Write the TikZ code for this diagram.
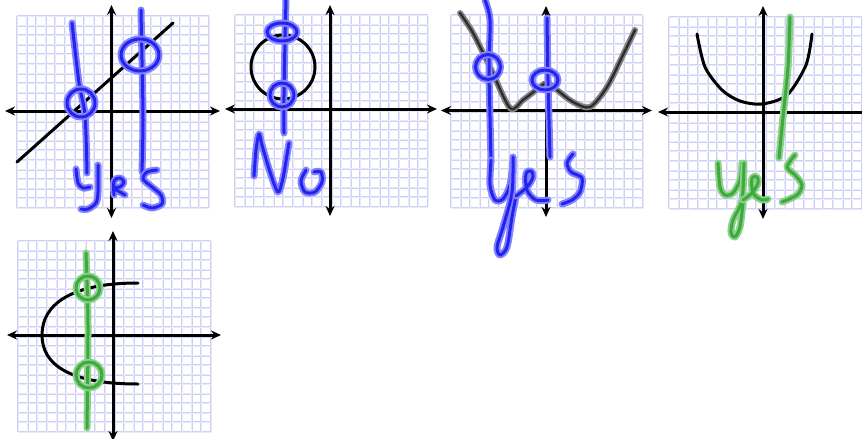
\documentclass[tikz,border=0pt]{standalone}
\usetikzlibrary{arrows.meta}
\definecolor{gridc}{RGB}{206,209,243}
\definecolor{gridl}{RGB}{232,234,251}
\definecolor{bluec}{RGB}{35,35,240}
\definecolor{blueh}{RGB}{130,130,255}
\definecolor{greenc}{RGB}{60,170,60}
\definecolor{greenh}{RGB}{140,208,140}
\definecolor{grayh}{RGB}{130,130,130}
\tikzset{
  gridline/.style={draw=gridc, line width=2pt},
  gridinner/.style={draw=gridl, line width=0.7pt},
  axis/.style={line width=3pt, black, {Stealth[length=10pt,width=9pt]}-{Stealth[length=10pt,width=9pt]}},
  laxis/.style={line width=3pt, black, {Stealth[length=10pt,width=9pt]}-},
  curve/.style={line width=3pt, black, line cap=round},
  gcurve/.style={preaction={draw=grayh, line width=6pt, line cap=round, line join=round}, draw={rgb,255:red,45;green,45;blue,45}, line width=2.4pt, line cap=round, line join=round},
  bink/.style={preaction={draw=blueh, line width=7pt, line cap=round, line join=round}, draw=bluec, line width=3pt, line cap=round, line join=round},
  gink/.style={preaction={draw=greenh, line width=7pt, line cap=round, line join=round}, draw=greenc, line width=3pt, line cap=round, line join=round}
}
\newcommand{\gridpanel}[4]{%
  \foreach \i in {0,...,20}{%
    \draw[gridline] ({#1+\i*(#3-#1)/20},#2) -- ({#1+\i*(#3-#1)/20},#4);
    \draw[gridline] (#1,{#2+\i*(#4-#2)/20}) -- (#3,{#2+\i*(#4-#2)/20});
  }%
  \foreach \i in {0,...,20}{%
    \draw[gridinner] ({#1+\i*(#3-#1)/20},#2) -- ({#1+\i*(#3-#1)/20},#4);
    \draw[gridinner] (#1,{#2+\i*(#4-#2)/20}) -- (#3,{#2+\i*(#4-#2)/20});
  }%
}
\begin{document}
\begin{tikzpicture}[x=1pt,y=-1pt]
\useasboundingbox (0,0) rectangle (862,439);
\clip (0,0) rectangle (862,439);
\fill[white] (0,0) rectangle (862,439);
% grids
\gridpanel{17}{16}{209}{208}
\gridpanel{235}{15}{428}{207}
\gridpanel{451}{15}{643}{208}
\gridpanel{669}{17}{862}{209}
\gridpanel{18}{241}{211}{432}
% axes
\draw[axis] (111.5,5) -- (111.5,218);
\draw[axis] (5,111) -- (220,111);
\draw[axis] (330,5) -- (330,216);
\draw[axis] (225,109) -- (437,109);
\draw[axis] (546,6) -- (546,217);
\draw[axis] (441,110.5) -- (652,110.5);
\draw[axis] (763,6) -- (763,219);
\draw[laxis] (658,112) -- (870,112);
\draw[axis] (113,231) -- (113,441);
\draw[axis] (7,335) -- (221,335);
% black curves
\draw[curve] (17,162) -- (173,23);
\draw[curve] (283,67) circle[radius=32];
\draw[gcurve] plot[smooth, tension=0.5] coordinates {(460,13) (473,33) (490,67) (510,108) (523,100) (540,87) (547,83) (557,90) (573,102) (590,107) (607,87) (622,57) (635,30)};
\draw[curve] plot[smooth] coordinates {(697,34) (705,67) (722,90) (740,101) (762,104) (787,95) (806,65) (812,34)};
\draw[curve] (138,283) .. controls (70,283) and (42,305) .. (42,335) .. controls (42,365) and (70,384) .. (138,384);
% panel 1 ink
\draw[bink] plot[smooth] coordinates {(72,23) (79,83) (85,115) (87,173)};
\draw[bink] (81,103) circle[radius=14];
\draw[bink] plot[smooth] coordinates {(141,10) (142,60) (143,120) (142,172)};
\draw[bink] (140,55) ellipse[x radius=19, y radius=16];
\draw[bink] plot[smooth] coordinates {(76,169) (78,183) (83,188) (90,187)};
\draw[bink] plot[smooth] coordinates {(98,165) (98,192) (96,203) (88,209) (81,209)};
\draw[bink] plot[smooth, tension=0.6] coordinates {(114,195) (114,181) (120,178) (124,182) (120,187) (114,188) (125,195)};
\draw[bink] plot[smooth] coordinates {(157,170) (147,172) (143,179) (152,187) (161,195) (162,204) (152,208) (143,205)};
% panel 2 ink
\draw[bink] plot[smooth] coordinates {(286,0) (285,40) (284,95) (284,133)};
\draw[bink] (282,32) ellipse[x radius=15, y radius=9];
\draw[bink] (282,95) circle[radius=12];
\draw[bink] plot[smooth, tension=0.5] coordinates {(254,176) (256,150) (259,134) (262,145) (270,172) (278,192) (283,178) (287,155) (289,143)};
\draw[bink] plot[smooth] coordinates {(306,170) (301,181) (305,192) (315,192) (322,182) (321,172) (314,172)};
% panel 3 ink
\draw[bink] plot[smooth] coordinates {(485,0) (490,20) (489,67) (490,117) (491,162)};
\draw[bink] plot[smooth] coordinates {(491,160) (490,185) (495,200) (503,199) (510,185) (513,160)};
\draw[bink] plot[smooth] coordinates {(513,157) (512,193) (503,227) (497,247) (500,255) (507,247) (512,217) (516,196)};
\draw[bink] plot[smooth, tension=0.6] coordinates {(516,196) (527,187) (533,177) (531,171) (526,174) (527,190) (536,200) (548,200)};
\draw[bink] plot[smooth] coordinates {(573,154) (567,163) (571,172) (582,178) (580,192) (572,200) (562,204)};
\draw[bink] plot[smooth] coordinates {(547,18) (548,80) (550,157)};
\draw[bink] (488,67) circle[radius=12.5];
\draw[bink] (545,80) ellipse[x radius=13, y radius=10];
% panel 4 ink
\draw[gink] plot[smooth] coordinates {(790,17) (788,67) (783,117) (779,158)};
\draw[gink] plot[smooth] coordinates {(718,163) (720,187) (725,195) (733,193) (740,180) (742,163)};
\draw[gink] plot[smooth] coordinates {(744,163) (742,200) (733,220) (731,233) (735,237) (740,227) (743,203)};
\draw[gink] plot[smooth, tension=0.6] coordinates {(743,200) (752,193) (758,183) (757,177) (752,178) (753,193) (762,200) (768,199)};
\draw[gink] plot[smooth] coordinates {(795,155) (787,167) (795,175) (802,185) (797,195) (782,202)};
% panel 5 ink
\draw[gink] plot[smooth] coordinates {(86,253) (88,325) (87,428)};
\draw[gink] (88,288) circle[radius=12];
\draw[gink] (89,375) circle[radius=13];
\end{tikzpicture}
\end{document}
